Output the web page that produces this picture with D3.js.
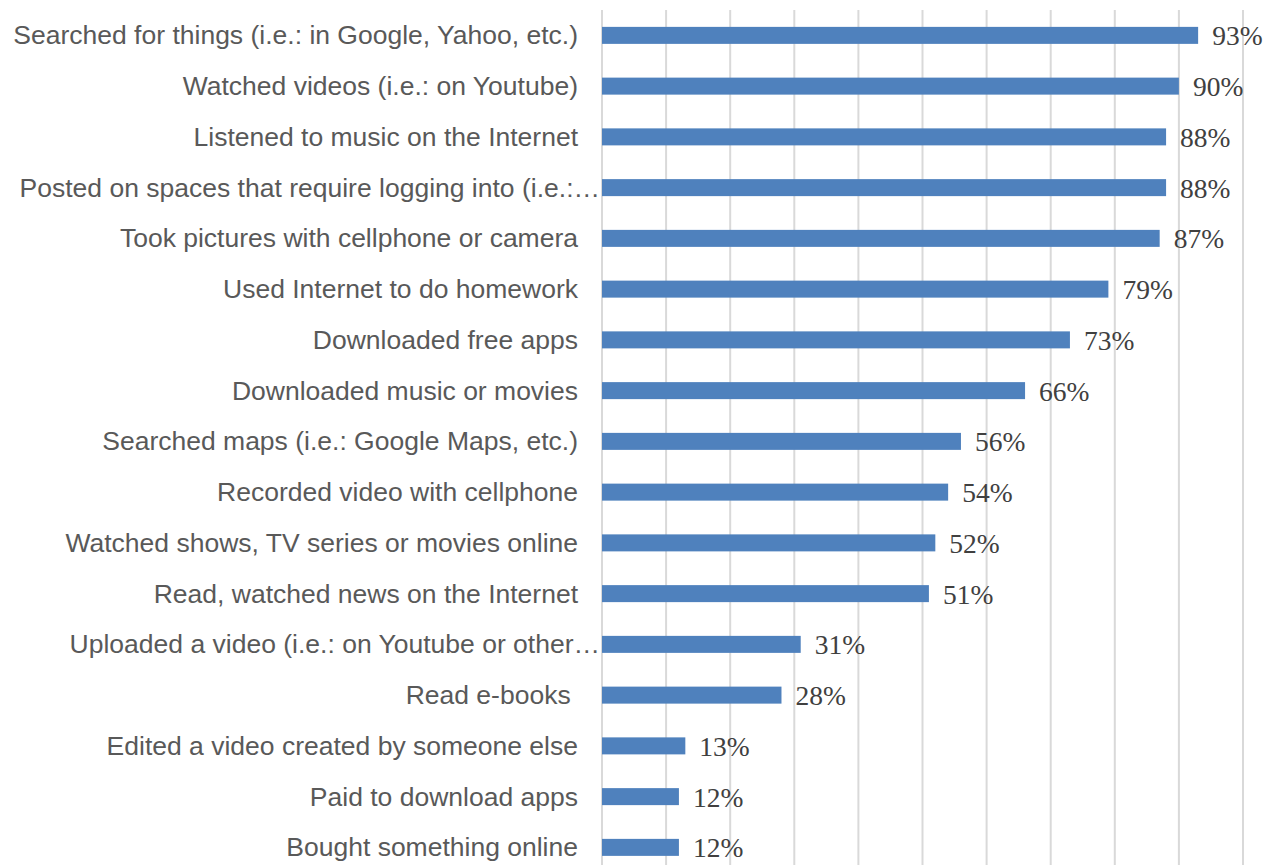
<!DOCTYPE html>
<html lang="en">
<head>
<meta charset="utf-8">
<title>Internet activities</title>
<style>
  body { margin: 0; padding: 0; background: #fff; }
  #chart { width: 1264px; height: 865px; }
</style>
</head>
<body>
<div id="chart"></div>
<script src="https://cdn.jsdelivr.net/npm/d3@7"></script>
<script>
var categories = [
  'Searched for things (i.e.: in Google, Yahoo, etc.)',
  'Watched videos (i.e.: on Youtube)',
  'Listened to music on the Internet',
  'Posted on spaces that require logging into (i.e.:\u2026',
  'Took pictures with cellphone or camera',
  'Used Internet to do homework',
  'Downloaded free apps',
  'Downloaded music or movies',
  'Searched maps (i.e.: Google Maps, etc.)',
  'Recorded video with cellphone',
  'Watched shows, TV series or movies online',
  'Read, watched news on the Internet',
  'Uploaded a video (i.e.: on Youtube or other\u2026',
  'Read e-books ',
  'Edited a video created by someone else',
  'Paid to download apps',
  'Bought something online'
];
var values = [93, 90, 88, 88, 87, 79, 73, 66, 56, 54, 52, 51, 31, 28, 13, 12, 12];
var tickValues = [0, 10, 20, 30, 40, 50, 60, 70, 80, 90, 100];

var width = 1264;
var height = 865;

var svg = d3.select('#chart')
  .append('svg')
  .attr('width', width)
  .attr('height', height);

var x = d3.scaleLinear()
  .domain([0, 100])
  .range([602, 1243]);

var y = d3.scaleBand()
  .domain(categories)
  .range([10, 872.75])
  .paddingInner(0.665)
  .paddingOuter(0.3325);

// vertical gridlines
svg.append('g')
  .selectAll('line')
  .data(tickValues)
  .enter()
  .append('line')
  .attr('x1', function(d) { return x(d); })
  .attr('x2', function(d) { return x(d); })
  .attr('y1', 10)
  .attr('y2', height)
  .style('stroke', '#d9d9d9')
  .style('stroke-width', 2);

// bars
svg.append('g')
  .selectAll('rect')
  .data(values)
  .enter()
  .append('rect')
  .attr('x', x(0))
  .attr('y', function(d, i) { return y(categories[i]); })
  .attr('width', function(d) { return x(d) - x(0); })
  .attr('height', y.bandwidth())
  .style('fill', '#4f81bd');

// category labels
svg.append('g')
  .selectAll('text')
  .data(categories)
  .enter()
  .append('text')
  .text(function(d) { return d; })
  .attr('xml:space', 'preserve')
  .attr('x', function(d) { return d.slice(-1) === '\u2026' ? 600 : 578; })
  .attr('y', function(d) { return y(d) + y.bandwidth() / 2 + 9; })
  .attr('text-anchor', 'end')
  .style('font-family', '"Liberation Sans", Arial, sans-serif')
  .style('font-size', '26.5px')
  .style('fill', '#595959');

// value labels
svg.append('g')
  .selectAll('text')
  .data(values)
  .enter()
  .append('text')
  .text(function(d) { return d + '%'; })
  .attr('x', function(d) { return x(d) + 14; })
  .attr('y', function(d, i) { return y(categories[i]) + y.bandwidth() / 2 + 10; })
  .style('font-family', '"Liberation Serif", "Times New Roman", serif')
  .style('font-size', '27.5px')
  .style('fill', '#404040');
</script>
</body>
</html>
